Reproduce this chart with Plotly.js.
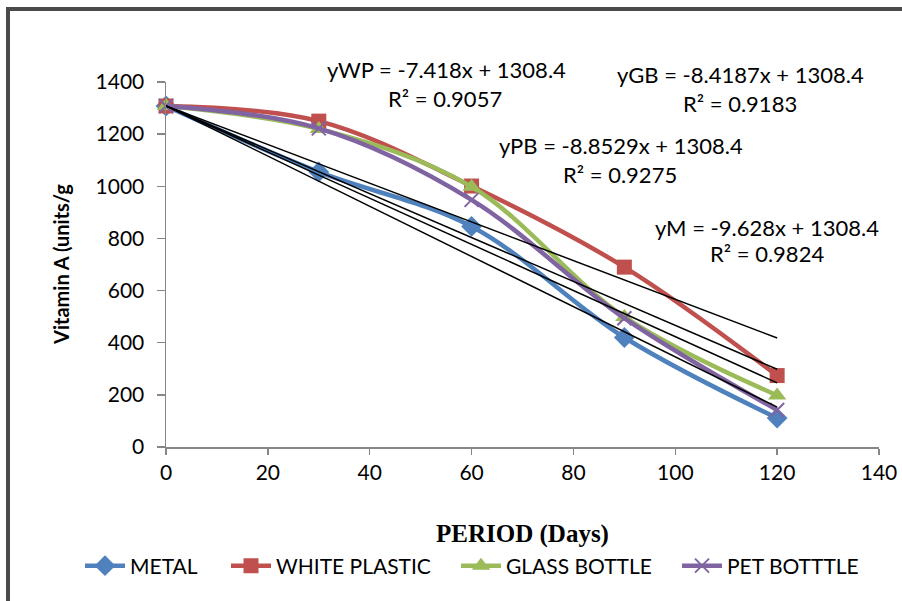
<!DOCTYPE html>
<html>
<head>
<meta charset="utf-8">
<script src="https://cdn.plot.ly/plotly-3.0.1.min.js"></script>
<style>
  html, body { margin:0; padding:0; background:#fff; }
  #wrap { position:relative; width:902px; height:601px; overflow:hidden; }
  #chart { position:absolute; left:0; top:0; width:902px; height:601px; }
  #frame { position:absolute; left:6px; top:7px; width:1000px; height:590px;
           border-left:4px solid #4a4a4a; border-top:4px solid #4a4a4a;
           border-bottom:1px solid #b0b0b0; pointer-events:none; box-sizing:content-box; }
</style>
</head>
<body>
<div id="wrap">
  <div id="chart"></div>
  <div id="frame"></div>
</div>
<script>
// ---- data ----
const days = [0, 30, 60, 90, 120];
const metal = [1308, 1055, 846, 420, 111];
const whitePlastic = [1308, 1250, 1001, 690, 274];
const glassBottle = [1308, 1220, 998, 499, 198];
const petBottle = [1308, 1222, 948, 494, 142];
const seriesNames = ["METAL", "WHITE PLASTIC", "GLASS BOTTLE", "PET BOTTTLE"];
const trendSlopes = [-9.628, -7.418, -8.4187, -8.8529];
const trendIntercept = 1308.4;
const trendRange = [0, 120];
const eqLabels = ["yWP = -7.418x + 1308.4", "R² = 0.9057",
                  "yGB = -8.4187x + 1308.4", "R² = 0.9183",
                  "yPB = -8.8529x + 1308.4", "R² = 0.9275",
                  "yM = -9.628x + 1308.4", "R² = 0.9824"];
const xTicks = [0, 20, 40, 60, 80, 100, 120, 140];
const yTicks = [0, 200, 400, 600, 800, 1000, 1200, 1400];
const xTitle = "PERIOD (Days)";
const yTitle = "Vitamin A (units/g";

const FONT = "Lato, 'Open Sans', sans-serif";
const colors = ["#4F81BD", "#C0504D", "#9BBB59", "#8064A2"];
const symbols = ["diamond", "square", "triangle-up", "x-thin-open"];
const sizes = [16, 15, 16, 14];
const seriesVals = [metal, whitePlastic, glassBottle, petBottle];
const legendIds = ["legend", "legend2", "legend3", "legend4"];

const traces = [];
seriesVals.forEach((v, i) => {
  traces.push({
    x: days, y: v, name: seriesNames[i], type: "scatter", mode: "lines+markers",
    legend: legendIds[i],
    line: { color: colors[i], width: 4.5, shape: "spline", smoothing: 1 },
    marker: { symbol: symbols[i], size: sizes[i], color: colors[i],
              line: { color: colors[i], width: i === 3 ? 2 : 0 } },
    cliponaxis: false
  });
});
trendSlopes.forEach((m) => {
  traces.push({
    x: trendRange, y: trendRange.map(x => m * x + trendIntercept),
    type: "scatter", mode: "lines", showlegend: false, hoverinfo: "skip",
    line: { color: "#000", width: 1.5 }
  });
});

// label centres in pixels -> paper coords
const L = 166, R = 879, T = 82, B = 447;
const px = x => (x - L) / (R - L);
const py = y => (B - y) / (B - T);
const labelPos = [[446, 70], [445, 98], [740, 75], [740, 103],
                  [621, 145], [620, 174], [767, 227], [767, 254]];
const annotations = eqLabels.map((t, i) => ({
  text: t, xref: "paper", yref: "paper",
  x: px(labelPos[i][0]), y: py(labelPos[i][1]),
  xanchor: "center", yanchor: "middle", showarrow: false,
  font: { family: FONT, size: 22, color: "#000" }
}));
// y-axis title
annotations.push({
  text: "<b>" + yTitle + "</b>", xref: "paper", yref: "paper",
  x: px(61), y: py(265), xanchor: "center", yanchor: "middle",
  textangle: -90, showarrow: false,
  font: { family: FONT, size: 20, color: "#000" }
});

const layout = {
  width: 902, height: 601,
  margin: { l: L, r: 902 - R, t: T, b: 601 - B },
  paper_bgcolor: "rgba(0,0,0,0)", plot_bgcolor: "rgba(0,0,0,0)",
  font: { family: FONT, size: 21, color: "#000" },
  showlegend: true,
  xaxis: {
    range: [0, 140], tickvals: xTicks, ticktext: xTicks.map(String),
    showgrid: false, zeroline: false, showline: true, linecolor: "#868686", linewidth: 1.5,
    ticks: "outside", ticklen: 6, tickcolor: "#868686", tickwidth: 1.5,
    tickfont: { family: FONT, size: 21, color: "#000" },
    title: { text: xTitle, standoff: 42,
             font: { family: "'Liberation Serif', 'Times New Roman', serif", size: 25, color: "#000", weight: "bold" } }
  },
  yaxis: {
    range: [0, 1400], tickvals: yTicks, ticktext: yTicks.map(String),
    showgrid: false, zeroline: false, showline: true, linecolor: "#868686", linewidth: 1.5,
    ticks: "outside", ticklen: 8, tickcolor: "#868686", tickwidth: 1.5,
    ticklabelstandoff: 8,
    tickfont: { family: FONT, size: 21, color: "#000" }
  },
  annotations: annotations
};
const legendBoxX = [80, 226, 456, 677];
legendIds.forEach((id, i) => {
  layout[id] = {
    orientation: "h", x: px(legendBoxX[i]), xanchor: "left", y: py(566), yanchor: "middle",
    font: { family: FONT, size: 21, color: "#000" }, itemwidth: 40,
    bgcolor: "rgba(0,0,0,0)"
  };
});

Plotly.newPlot("chart", traces, layout, { staticPlot: true, displayModeBar: false });
</script>
</body>
</html>
